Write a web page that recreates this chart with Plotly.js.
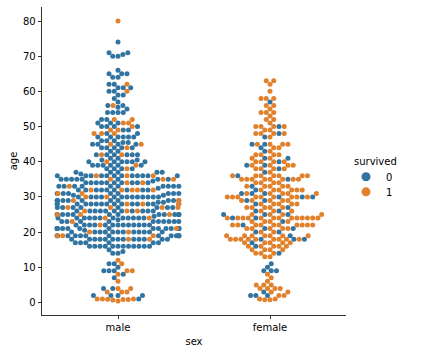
<!DOCTYPE html>
<html><head><meta charset="utf-8">
<script src="https://cdn.plot.ly/plotly-3.0.1.min.js"></script>
<style>html,body{margin:0;padding:0;background:#fff}</style>
</head><body><div id="chart" style="width:426px;height:360px"></div>
<script>
// ---- data (read/estimated from the reference) ----
const categories = ['male', 'female'];
const hueLevels = ['0', '1'];
const hueColors = ['#3274a1', '#e1812c'];
const legendTitle = 'survived';

const maleDiedAge = [1,2,4,7,8,9,10,11,14,14.5,15,16,17,18,19,20,20.5,21,22,23,23.5,24,24.5,25,26,27,28,28.5,29,30,30.5,31,32,32.5,33,34,34.5,35,36,36.5,37,38,39,40,40.5,41,42,43,44,45,45.5,46,47,48,49,50,51,52,54,55,55.5,56,57,58,59,60,61,62,64,65,66,70,70.5,71,74];
const maleDiedCount = [1,4,2,1,1,3,1,2,2,1,1,12,6,13,15,12,1,16,13,10,1,12,1,13,11,8,15,2,11,13,2,8,9,1,10,10,1,8,12,1,5,4,6,6,2,2,6,2,5,4,2,3,6,2,2,4,3,2,4,1,1,2,1,1,2,2,3,2,2,3,1,2,1,2,1];

const maleSurvAge = [0.42,0.67,0.83,0.92,1,3,4,6,8,9,11,12,18,19,20,21,22,23,24,25,26,27,28,29,30,31,32,33,34,35,36,38,39,40,42,44,45,48,49,50,51,52,56,60,62,80];
const maleSurvCount = [1,1,2,1,3,3,2,1,1,2,1,1,2,3,2,1,1,1,2,3,3,4,3,2,2,2,5,1,2,3,3,1,1,1,2,1,2,3,2,1,2,2,1,1,1,1];

const femaleDiedAge = [2,3,9,10,11,14,16,17,18,19,20,21,22,23,24,25,26,27,28,29,30,31,32,33,35,36,37,38,39,40,41,43,44,45,47,48,50,57];
const femaleDiedCount = [3,1,3,1,1,1,1,1,3,1,2,2,1,1,2,3,2,1,1,2,3,3,1,1,1,1,1,1,2,1,2,1,1,2,1,1,1,1];

const femaleSurvAge = [0.75,1,2,3,4,5,6,7,8,13,14,15,16,17,18,19,20,21,22,23,24,25,26,27,28,29,30,31,32,33,34,35,36,37,38,39,40,41,42,43,44,45,47,48,49,50,51,52,53,54,55,56,58,60,62,63];
const femaleSurvCount = [2,2,2,2,4,3,1,1,1,2,3,4,5,5,9,7,2,5,10,4,13,4,3,5,5,5,9,5,6,5,4,8,7,1,4,4,4,2,4,1,2,4,1,4,2,4,1,2,1,3,1,2,3,1,1,2];

const groups = [
  {cat: 0, died: [maleDiedAge, maleDiedCount], surv: [maleSurvAge, maleSurvCount]},
  {cat: 1, died: [femaleDiedAge, femaleDiedCount], surv: [femaleSurvAge, femaleSurvCount]}
];

// ---- layout geometry ----
const W = 426, H = 360;
const margin = {l: 42, r: 80, t: 7, b: 45};
const xRange = [-0.5, 1.5];
const yRange = [-3.559, 83.979];
const plotW = W - margin.l - margin.r;
const plotH = H - margin.t - margin.b;
const pxPerX = plotW / (xRange[1] - xRange[0]);
const pxPerY = plotH / (yRange[1] - yRange[0]);
const D = 5;          // marker diameter in px
const halfWidth = 0.4; // category width / 2

function buildPoints(g) {
  const map = new Map();
  const add = (arr, key) => {
    arr[0].forEach((a, i) => {
      if (!map.has(a)) map.set(a, {d: 0, s: 0});
      map.get(a)[key] += arr[1][i];
    });
  };
  add(g.died, 'd'); add(g.surv, 's');
  const ages = Array.from(map.keys()).sort((a, b) => a - b);
  const pts = [];
  ages.forEach(a => {
    const {d, s} = map.get(a);
    const n = d + s;
    for (let k = 0; k < n; k++) {
      const isS = Math.floor((k + 1) * s / n + 0.5) > Math.floor(k * s / n + 0.5);
      pts.push({age: a, hue: isS ? 1 : 0});
    }
  });
  return pts;
}

function beeswarm(pts) {
  const placed = [];
  pts.forEach(p => {
    const y = (p.age - yRange[0]) * pxPerY;
    const neighbors = [];
    for (let j = placed.length - 1; j >= 0; j--) {
      if (y - placed[j].y < D) neighbors.push(placed[j]); else break;
    }
    neighbors.reverse();
    let x = 0;
    if (neighbors.length) {
      const cands = [0];
      let leftFirst = true;
      neighbors.forEach(nb => {
        const dy = y - nb.y;
        const dx = Math.sqrt(Math.max(D * D - dy * dy, 0)) * 1.05;
        if (leftFirst) cands.push(nb.x - dx, nb.x + dx); else cands.push(nb.x + dx, nb.x - dx);
        leftFirst = !leftFirst;
      });
      const order = cands.map((c, i) => i).sort((a, b) => Math.abs(cands[a]) - Math.abs(cands[b]));
      for (const i of order) {
        const cx = cands[i];
        let ok = true;
        for (const nb of neighbors) {
          const ddx = nb.x - cx, ddy = nb.y - y;
          if (ddx * ddx + ddy * ddy < D * D - 1e-9) { ok = false; break; }
        }
        if (ok) { x = cx; break; }
      }
    }
    placed.push({x, y, age: p.age, hue: p.hue});
  });
  return placed;
}

const traceX = [[], []], traceY = [[], []];
groups.forEach(g => {
  const placed = beeswarm(buildPoints(g));
  placed.forEach(p => {
    let xv = g.cat + p.x / pxPerX;
    xv = Math.min(Math.max(xv, g.cat - halfWidth), g.cat + halfWidth);
    traceX[p.hue].push(xv);
    traceY[p.hue].push(p.age);
  });
});

const font = {family: 'DejaVu Sans, sans-serif', size: 10, color: '#000'};
const traces = [];
hueLevels.forEach((h, i) => {
  traces.push({
    type: 'scatter', mode: 'markers', x: traceX[i], y: traceY[i],
    marker: {size: D, color: hueColors[i], line: {width: 0}},
    showlegend: false, hoverinfo: 'skip'
  });
});
hueLevels.forEach((h, i) => {
  traces.push({
    type: 'scatter', mode: 'markers', x: [null], y: [null], name: h,
    marker: {size: 9, color: hueColors[i], line: {width: 0}},
    showlegend: true, legend: i === 0 ? 'legend' : 'legend2'
  });
});

const axisCommon = {
  showgrid: false, zeroline: false, showline: true, linecolor: '#000', linewidth: 0.8,
  ticks: 'outside', ticklen: 3.5, tickwidth: 0.8, tickcolor: '#000',
  tickfont: font, mirror: false
};

const legendCommon = {
  x: 1.0, xanchor: 'left', yanchor: 'top',
  font: font, bgcolor: 'rgba(0,0,0,0)', borderwidth: 0, itemwidth: 30
};

const layout = {
  width: W, height: H, margin: margin,
  paper_bgcolor: '#fff', plot_bgcolor: '#fff',
  font: font,
  showlegend: true,
  xaxis: Object.assign({}, axisCommon, {
    range: xRange, tickvals: [0, 1], ticktext: categories,
    title: {text: 'sex', font: font, standoff: 5}
  }),
  yaxis: Object.assign({}, axisCommon, {
    range: yRange, tick0: 0, dtick: 10,
    title: {text: 'age', font: font, standoff: 3}
  }),
  legend: Object.assign({}, legendCommon, {y: 0.496}),
  legend2: Object.assign({}, legendCommon, {y: 0.447}),
  annotations: [{
    text: legendTitle, xref: 'paper', yref: 'paper', x: 1.0197, y: 0.5,
    xanchor: 'left', yanchor: 'middle', showarrow: false, font: font
  }]
};

Plotly.newPlot('chart', traces, layout, {staticPlot: true, displayModeBar: false});
</script>
</body></html>
